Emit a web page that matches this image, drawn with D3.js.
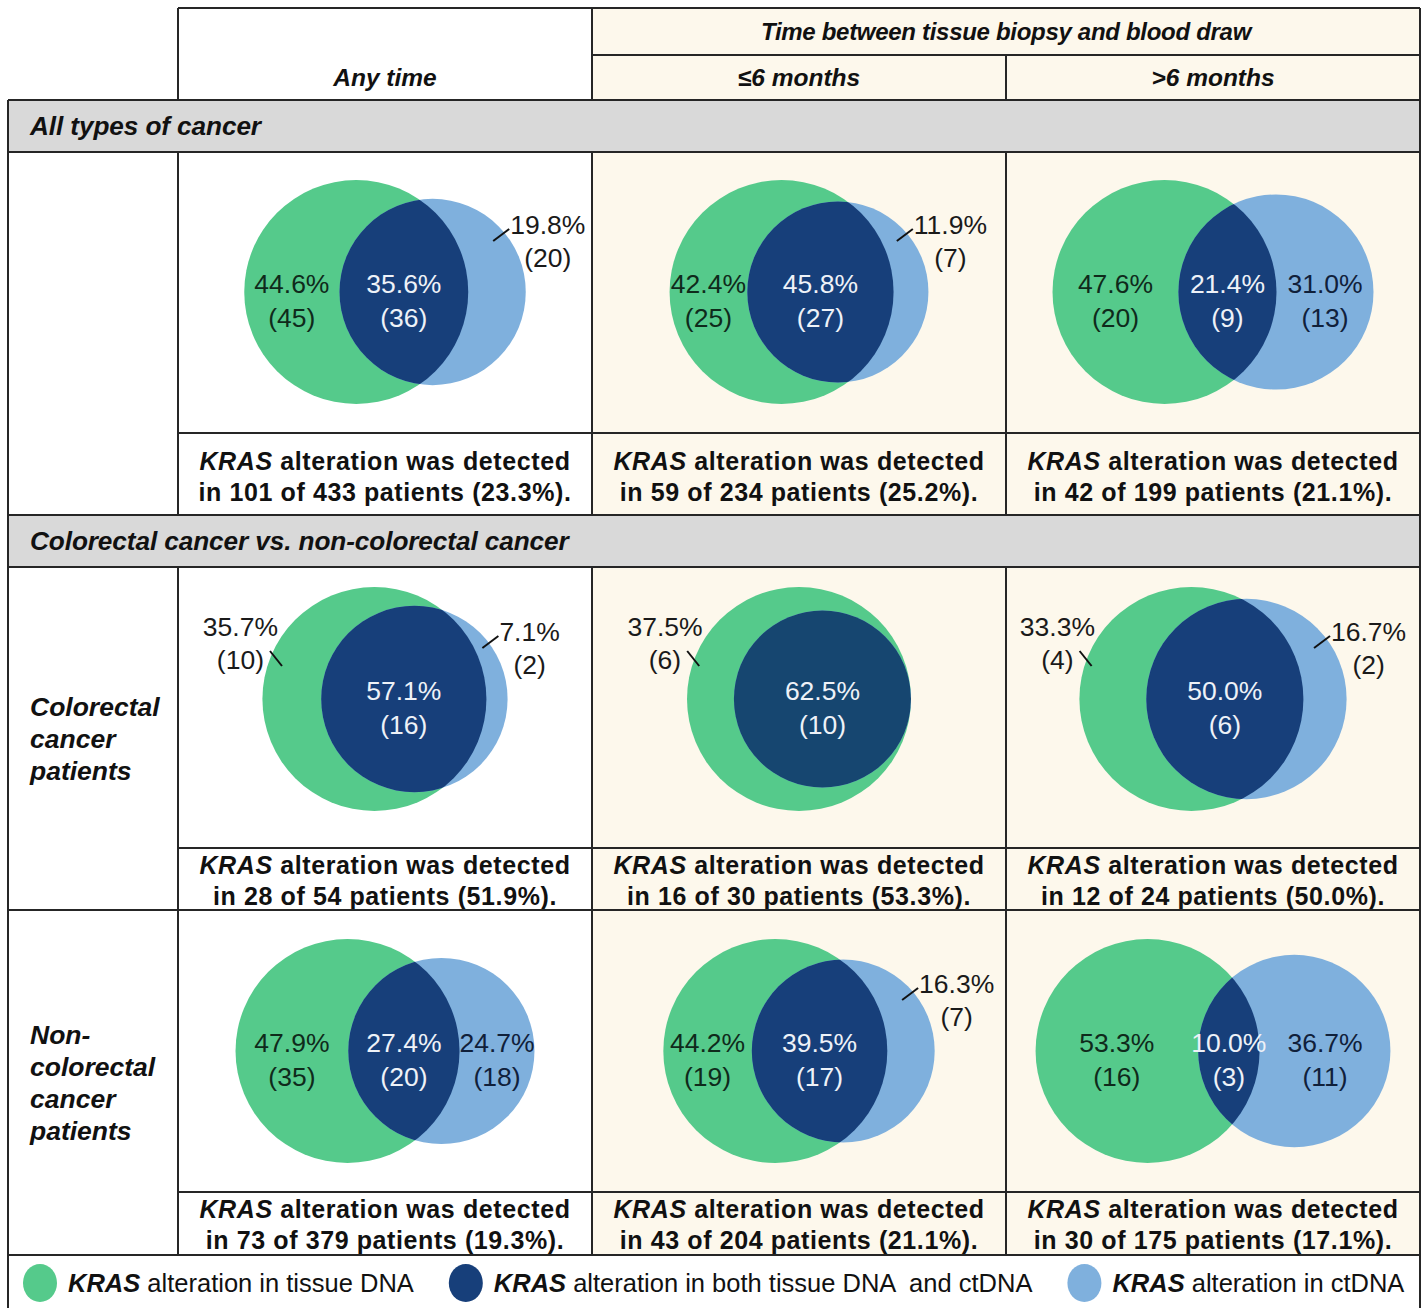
<!DOCTYPE html>
<html>
<head>
<meta charset="utf-8">
<title>KRAS concordance Venn table</title>
<script src="https://d3js.org/d3.v7.min.js"></script>
<style>
body {
	margin: 0;
	background: #fff;
}
text {
	font-family: "Liberation Sans", Arial, sans-serif;
}
</style>
</head>
<body>
<svg id="chart" width="1427" height="1308"></svg>
<script>
// ---- data ----
var columns = ["Any time", "≤6 months", ">6 months"];
var timeHeader = "Time between tissue biopsy and blood draw";
var sections = ["All types of cancer", "Colorectal cancer vs. non-colorectal cancer"];
var rowLabels = [[], ["Colorectal", "cancer", "patients"], ["Non-", "colorectal", "cancer", "patients"]];

// counts per group (rows) x time window (columns)
var tissueOnly = [[45, 25, 20], [10, 6, 4], [35, 19, 16]];
var both       = [[36, 27, 9],  [16, 10, 6], [20, 17, 3]];
var ctdnaOnly  = [[20, 7, 13],  [2, 0, 2],   [18, 7, 11]];
var tissuePct  = [["44.6", "42.4", "47.6"], ["35.7", "37.5", "33.3"], ["47.9", "44.2", "53.3"]];
var bothPct    = [["35.6", "45.8", "21.4"], ["57.1", "62.5", "50.0"], ["27.4", "39.5", "10.0"]];
var ctdnaPct   = [["19.8", "11.9", "31.0"], ["7.1", null, "16.7"], ["24.7", "16.3", "36.7"]];

var detected    = [[101, 59, 42], [28, 16, 12], [73, 43, 30]];
var totals      = [[433, 234, 199], [54, 30, 24], [379, 204, 175]];
var detectedPct = [["23.3", "25.2", "21.1"], ["51.9", "53.3", "50.0"], ["19.3", "21.1", "17.1"]];

var legendLabels = ["alteration in tissue DNA", "alteration in both tissue DNA  and ctDNA", "alteration in ctDNA"];

// ---- styles / layout ----
var green = "#55ca8b", navy = "#173f7a", blue = "#7fb0dd";
var cream = "#fdf8ec", gray = "#d9d9d9", ink = "#262626";

var svg = d3.select("#chart");

var x = d3.scaleBand().domain(columns).range([178, 1420]);
var left = 8, right = 1420;

// table rows: venn cell top, caption top, caption bottom
var rows = [
	{top: 152, cap: 433, bottom: 515, capPad: 37, cy: 292},
	{top: 567, cap: 848, bottom: 910, capPad: 26, cy: 699},
	{top: 910, cap: 1192, bottom: 1255, capPad: 26, cy: 1051}
];
var sectionY = [100, 515];
var sectionH = 52;

// ---- backgrounds ----
svg.append("rect")
	.attr("x", x(columns[1])).attr("y", 8)
	.attr("width", right - x(columns[1])).attr("height", 92)
	.attr("fill", cream);

rows.forEach(function(r) {
	svg.append("rect")
		.attr("x", x(columns[1])).attr("y", r.top)
		.attr("width", right - x(columns[1])).attr("height", r.bottom - r.top)
		.attr("fill", cream);
});

sectionY.forEach(function(y0, i) {
	svg.append("rect")
		.attr("x", left).attr("y", y0)
		.attr("width", right - left).attr("height", sectionH)
		.attr("fill", gray);
	svg.append("text")
		.attr("x", 30).attr("y", y0 + 35)
		.attr("font-size", 26.2).attr("font-weight", "bold").attr("font-style", "italic")
		.attr("letter-spacing", -0.1)
		.attr("fill", "#111")
		.text(sections[i]);
});

// ---- header text ----
svg.append("text")
	.attr("x", (x(columns[1]) + right) / 2).attr("y", 40)
	.attr("text-anchor", "middle")
	.attr("font-size", 24).attr("font-weight", "bold").attr("font-style", "italic")
	.attr("letter-spacing", -0.3)
	.attr("fill", "#111")
	.text(timeHeader);

svg.selectAll(".colhead")
	.data(columns)
	.enter().append("text")
	.attr("class", "colhead")
	.attr("x", d => x(d) + x.bandwidth() / 2).attr("y", 86)
	.attr("text-anchor", "middle")
	.attr("font-size", 24.5).attr("font-weight", "bold").attr("font-style", "italic")
	.attr("letter-spacing", 0)
	.attr("fill", "#111")
	.text(d => d);

// ---- row labels ----
var groupSpans = [null, [567, 910], [910, 1255]];
rowLabels.forEach(function(lines, i) {
	if (!lines.length) return;
	var mid = (groupSpans[i][0] + groupSpans[i][1]) / 2;
	var first = mid - (lines.length - 1) * 16 + 9;
	lines.forEach(function(t, k) {
		svg.append("text")
			.attr("x", 30).attr("y", first + k * 32)
			.attr("font-size", 26.5).attr("font-weight", "bold").attr("font-style", "italic")
			.attr("fill", "#111")
			.text(t);
	});
});

// ---- venn geometry ----
function lensArea(r1, r2, d) {
	if (d >= r1 + r2) return 0;
	if (d <= Math.abs(r1 - r2)) return Math.PI * Math.pow(Math.min(r1, r2), 2);
	var a = r1 * r1 * Math.acos((d * d + r1 * r1 - r2 * r2) / (2 * d * r1));
	var b = r2 * r2 * Math.acos((d * d + r2 * r2 - r1 * r1) / (2 * d * r2));
	var c = 0.5 * Math.sqrt((-d + r1 + r2) * (d + r1 - r2) * (d - r1 + r2) * (d + r1 + r2));
	return a + b - c;
}

function centreDistance(r1, r2, target) {
	var lo = Math.abs(r1 - r2), hi = r1 + r2;
	if (target >= lensArea(r1, r2, lo) - 1e-6) return lo;
	for (var k = 0; k < 60; k++) {
		var m = (lo + hi) / 2;
		if (lensArea(r1, r2, m) > target) lo = m; else hi = m;
	}
	return (lo + hi) / 2;
}

var defs = svg.append("defs");
var minInside = 68;

rows.forEach(function(row, i) {
	columns.forEach(function(col, j) {
		var a = tissueOnly[i][j], b = both[i][j], c = ctdnaOnly[i][j];
		var tT = a + b, cT = b + c;
		var rad = d3.scaleSqrt().domain([0, Math.max(tT, cT)]).range([0, 112]);
		var r1 = rad(tT), r2 = rad(cT);
		var d = centreDistance(r1, r2, Math.PI * r1 * r1 * b / tT);
		var extent = Math.max(2 * r1, r1 + d + r2);
		var mid = x(col) + x.bandwidth() / 2;
		var cx1 = mid - extent / 2 + r1, cx2 = cx1 + d, cy = row.cy;

		var g = svg.append("g").attr("class", "venn");
		var clipId = "clip" + i + j;
		defs.append("clipPath").attr("id", clipId)
			.append("circle").attr("cx", cx1).attr("cy", cy).attr("r", r1);

		g.append("circle").attr("cx", cx1).attr("cy", cy).attr("r", r1).attr("fill", green);
		g.append("circle").attr("cx", cx2).attr("cy", cy).attr("r", r2).attr("fill", blue);
		g.append("circle").attr("cx", cx2).attr("cy", cy).attr("r", r2)
			.attr("fill", c > 0 ? navy : "#164670").attr("clip-path", "url(#" + clipId + ")");

		var gL = cx1 - r1, gR = cx1 + r1, bL = cx2 - r2, bR = cx2 + r2;

		function inner(xc, pct, n, fill) {
			var t = g.append("text")
				.attr("text-anchor", "middle")
				.attr("font-size", 26.5)
				.attr("fill", fill);
			t.append("tspan").attr("x", xc).attr("y", cy + 1).text(pct + "%");
			t.append("tspan").attr("x", xc).attr("y", cy + 35).text("(" + n + ")");
		}

		function outer(xc, pct, n, side) {
			var b1 = side === "right" ? cy - 58 : cy - 63;
			var t = g.append("text")
				.attr("text-anchor", "middle")
				.attr("font-size", 26.5)
				.attr("fill", "#1a1a1a");
			var l1 = t.append("tspan").attr("x", xc).attr("y", b1).text(pct + "%");
			var l2 = t.append("tspan").attr("x", xc).attr("y", b1 + 33).text("(" + n + ")");
			if (side === "right") {
				var lx = xc - l1.node().getComputedTextLength() / 2 - 1;
				g.append("line")
					.attr("x1", lx - 16).attr("y1", b1 + 7)
					.attr("x2", lx).attr("y2", b1 - 5)
					.attr("stroke", "#111").attr("stroke-width", 2);
			} else {
				var rx = xc + l2.node().getComputedTextLength() / 2;
				g.append("line")
					.attr("x1", rx + 6).attr("y1", b1 + 33 - 18)
					.attr("x2", rx + 18).attr("y2", b1 + 33 - 3)
					.attr("stroke", "#111").attr("stroke-width", 2);
			}
		}

		// tissue-only crescent
		if (bL - gL >= minInside) inner((gL + bL) / 2, tissuePct[i][j], a, "#0f2a1b");
		else outer(gL - 22, tissuePct[i][j], a, "left");

		// overlap
		inner((bL + Math.min(gR, bR)) / 2, bothPct[i][j], b, "#eef2f8");

		// ctDNA-only crescent
		if (c > 0) {
			if (bR - gR >= minInside) inner((gR + bR) / 2, ctdnaPct[i][j], c, "#10203a");
			else outer(bR + 22, ctdnaPct[i][j], c, "right");
		}

		// caption
		var cap = svg.append("text")
			.attr("text-anchor", "middle")
			.attr("font-size", 25).attr("font-weight", "bold")
			.attr("letter-spacing", 0.6)
			.attr("fill", "#111");
		var line1 = cap.append("tspan").attr("x", mid).attr("y", row.cap + row.capPad);
		line1.append("tspan").attr("font-style", "italic").text("KRAS");
		line1.append("tspan").text(" alteration was detected");
		cap.append("tspan").attr("x", mid).attr("y", row.cap + row.capPad + 31)
			.text("in " + detected[i][j] + " of " + totals[i][j] + " patients (" + detectedPct[i][j] + "%).");
	});
});

// ---- legend ----
var legendY = 1283;
var legendX = 40;
[green, navy, blue].forEach(function(fill, k) {
	svg.append("ellipse")
		.attr("cx", legendX).attr("cy", legendY)
		.attr("rx", 17).attr("ry", 19)
		.attr("fill", fill);
	var t = svg.append("text")
		.attr("x", legendX + 28).attr("y", legendY + 9)
		.attr("font-size", 25.5)
		.attr("fill", "#111")
		.attr("xml:space", "preserve");
	t.append("tspan").attr("font-weight", "bold").attr("font-style", "italic").text("KRAS");
	t.append("tspan").text(" " + legendLabels[k]);
	legendX = legendX + 28 + t.node().getComputedTextLength() + 52;
});

// ---- grid lines ----
var lines = [
	// horizontals
	[178, 8, right, 8], [x(columns[1]), 55, right, 55],
	[left, 100, right, 100], [left, 152, right, 152],
	[178, 433, right, 433], [left, 515, right, 515], [left, 567, right, 567],
	[178, 848, right, 848], [left, 910, right, 910],
	[178, 1192, right, 1192], [left, 1255, right, 1255],
	// verticals
	[left, 100, left, 1308], [right, 8, right, 1308]
];
[x(columns[0]), x(columns[1]), x(columns[2])].forEach(function(xv, k) {
	lines.push([xv, k === 2 ? 55 : 8, xv, 100]);
	lines.push([xv, 152, xv, 515]);
	lines.push([xv, 567, xv, 1255]);
});
svg.selectAll(".grid")
	.data(lines)
	.enter().append("line")
	.attr("class", "grid")
	.attr("x1", d => d[0]).attr("y1", d => d[1])
	.attr("x2", d => d[2]).attr("y2", d => d[3])
	.attr("stroke", ink).attr("stroke-width", 2);
</script>
</body>
</html>
